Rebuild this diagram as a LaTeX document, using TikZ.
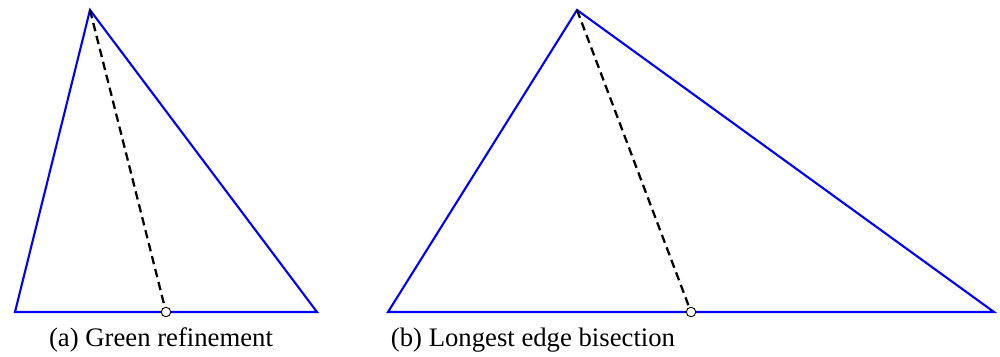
\documentclass[tikz,border=0pt]{standalone}
\usepackage{fontspec}
\setmainfont{Liberation Serif}
\begin{document}
\begin{tikzpicture}[x=0.02cm,y=-0.02cm,
  edge/.style={blue,line width=1.2pt,line join=miter},
  split/.style={black,line width=1.3pt,dash pattern=on 4.8pt off 2.8pt},
  mid/.style={circle,draw=black,fill=white,line width=0.5pt,inner sep=0pt,minimum size=0.19cm},
  captext/.style={font=\fontsize{15.2}{17}\selectfont,inner sep=0pt}]
\useasboundingbox (0,0) rectangle (1000,356);
% (a)
\coordinate (a1) at (15,312);
\coordinate (a2) at (317,312);
\coordinate (a3) at (90,10);
\coordinate (am) at (166,312);
\draw[edge] (a1) -- (a2) -- (a3) -- cycle;
\draw[split] (a3) -- (am);
\node[mid] (amc) at (am) {};
\node[captext] (capa) at (161,340) {(a) Green refinement};
% (b)
\coordinate (b1) at (388,312);
\coordinate (b2) at (994,312);
\coordinate (b3) at (577,10);
\coordinate (bm) at (691,312);
\draw[edge] (b1) -- (b2) -- (b3) -- cycle;
\draw[split] (b3) -- (bm);
\node[mid] (bmc) at (bm) {};
\node[captext] (capb) at (533,340) {(b) Longest edge bisection};
\end{tikzpicture}
\end{document}
